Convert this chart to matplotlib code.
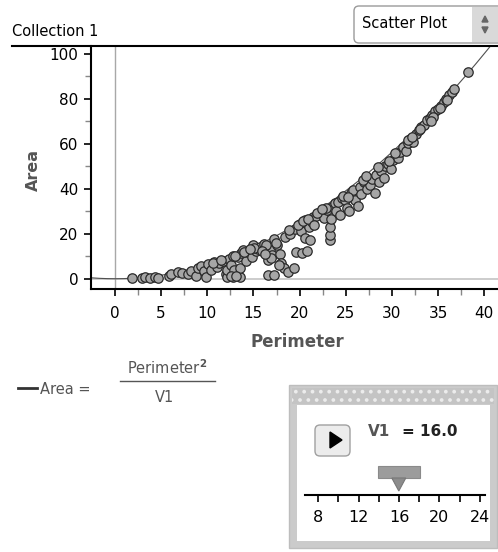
import numpy as np
import matplotlib.pyplot as plt
from matplotlib.patches import Rectangle, FancyBboxPatch, Polygon
from matplotlib.lines import Line2D

plt.rcParams['font.family'] = ['DejaVu Sans']
plt.rcParams['mathtext.fontset'] = 'dejavusans'
plt.rcParams['hatch.linewidth'] = 1.5

# Scatter data (Perimeter, Area)
perimeter = [1.8, 2.9, 3.3, 3.8, 4.3, 4.7, 5.9, 6.1, 6.8, 7.3, 7.9, 8.2, 8.8, 9.0,
             9.3, 9.6, 9.9, 10.1, 10.4, 10.7, 11.0, 11.3, 11.7, 12.0, 12.1, 12.1,
             12.3, 12.6, 12.8, 12.8, 12.9, 13.3, 13.5, 13.5, 13.7, 13.9, 14.2, 14.4,
             14.8, 15.0, 15.3, 15.5, 15.7, 16.1, 16.2, 16.6, 16.6, 16.8, 17.0, 17.2,
             17.2, 17.6, 17.9, 18.0, 18.3, 18.4, 18.7, 19.0, 19.4, 19.6, 19.5, 20.0,
             20.2, 20.3, 20.6, 20.6, 20.8, 21.0, 21.1, 21.3, 21.5, 21.8, 22.2, 22.6,
             23.0, 23.3, 23.3, 23.3, 23.4, 23.5, 23.8, 24.0, 24.2, 24.4, 24.6, 24.9,
             25.1, 25.4, 25.6, 25.8, 26.0, 26.3, 26.5, 26.7, 27.0, 27.3, 27.6, 27.9,
             28.2, 28.3, 28.6, 28.8, 29.1, 29.3, 29.6, 29.9, 30.1, 30.4, 30.7, 30.9,
             31.2, 31.5, 31.8, 32.0, 32.3, 32.6, 32.9, 33.2, 33.5, 33.8, 34.1, 34.4,
             34.7, 35.0, 35.3, 35.6, 35.9, 36.2, 36.5, 36.7, 38.3,
             10.6, 11.5, 13.0, 14.0, 15.1, 16.4, 17.4, 18.8, 19.8, 20.4, 21.9, 22.9,
             24.7, 26.9, 28.5, 30.3, 31.7, 33.0, 34.5, 35.2, 12.6, 13.1, 16.9, 17.8,
             15.9, 16.3, 14.6, 20.9, 21.6, 22.4, 25.3, 27.2, 29.7, 32.2, 34.2, 36.0]
area = [0.5, 0.5, 0.6, 0.5, 0.6, 0.5, 1.2, 2.3, 3.2, 2.6, 2.1, 3.3, 1.3, 4.8,
        5.6, 3.5, 0.8, 6.5, 3.9, 7.3, 5.2, 7.0, 8.0, 2.0, 0.8, 4.0,
        8.8, 6.2, 10.3, 0.8, 3.8, 9.5, 0.8, 4.6, 11.6, 12.6, 8.0, 12.0,
        9.8, 14.8, 12.2, 13.2, 14.0, 15.6, 13.0, 8.2, 1.5, 12.6, 10.4, 1.6,
        17.5, 15.2, 11.0, 6.8, 4.6, 18.5, 3.1, 20.0, 4.6, 11.8, 22.0, 24.5,
        21.0, 11.5, 18.0, 26.0, 12.2, 22.8, 17.2, 25.0, 27.5, 28.0, 29.5, 27.0,
        30.5, 17.0, 19.5, 23.0, 26.5, 32.0, 33.5, 30.0, 34.0, 28.5, 36.0, 35.0,
        31.5, 30.0, 38.0, 39.5, 35.0, 32.5, 41.0, 37.5, 43.0, 40.0, 41.5, 44.5,
        38.0, 46.0, 43.0, 48.0, 45.0, 50.0, 51.0, 49.0, 53.0, 55.0, 53.5, 56.5,
        58.5, 57.0, 60.5, 62.0, 61.0, 64.5, 66.0, 67.5, 68.5, 70.5, 71.5, 73.0,
        74.5, 75.5, 77.0, 78.5, 80.0, 81.5, 83.0, 84.5, 91.7,
        6.9, 8.2, 10.0, 11.8, 13.6, 15.0, 16.0, 21.5, 23.8, 25.5, 29.0, 31.5,
        37.0, 44.0, 49.5, 56.0, 61.5, 66.5, 72.0, 76.0, 1.0, 1.0, 9.0, 6.0,
        12.5, 10.8, 13.4, 26.5, 24.0, 30.8, 36.5, 45.5, 52.5, 63.0, 70.0, 79.5]

v1 = 16.0
slider_ticks = [8, 10, 12, 14, 16, 18, 20, 22, 24]
slider_labels = [8, 12, 16, 20, 24]

W, H = 498, 552
fig = plt.figure(figsize=(W / 100, H / 100), dpi=100)

def fx(px):
    return px / W

def fy(py):
    return 1 - py / H

# main plot
ax = fig.add_axes([fx(91), fy(289.3), fx(498) - fx(91), fy(45.7) - fy(289.3)])
ax.set_xlim(-2.6, 41.5)
ax.set_ylim(-4.7, 103.6)
ax.axhline(0, color='#c4c4c4', lw=1.2, zorder=1)
ax.axvline(0, color='#a8a8a8', lw=1.0, zorder=1)
curve_x = np.linspace(-2.6, 41.5, 300)
ax.plot(curve_x, curve_x ** 2 / v1, color='#505050', lw=0.8, zorder=2)
ax.scatter(perimeter, area, s=46, facecolor='#a6a6a6', edgecolor='#2a2a2a',
           linewidth=0.9, zorder=3)
for side in ['top', 'right']:
    ax.spines[side].set_visible(False)
for side in ['left', 'bottom']:
    ax.spines[side].set_linewidth(1.5)
ax.set_xticks(np.arange(0, 41, 5))
ax.set_xticks(np.arange(2.5, 41, 5), minor=True)
ax.set_yticks(np.arange(0, 101, 20))
ax.set_yticks(np.arange(10, 101, 20), minor=True)
ax.tick_params(which='major', length=5, width=1.2, labelsize=11, pad=4)
ax.tick_params(which='minor', length=4, width=1.0, color='#888888')
ax.tick_params(axis='x', pad=7)

# header line and titles
ov = fig.add_axes([0, 0, 1, 1], zorder=5)
ov.set_xlim(0, W)
ov.set_ylim(H, 0)
ov.axis('off')
ov.add_line(Line2D([12, 498], [45.7, 45.7], color='black', lw=1.5))
ov.text(12, 31, 'Collection 1', fontsize=10.5, va='center', ha='left')
ov.add_patch(FancyBboxPatch((354, 6), 150, 37, boxstyle='round,pad=0,rounding_size=5',
                            facecolor='white', edgecolor='#9a9a9a', lw=1))
ov.add_patch(Rectangle((472, 7), 26, 35, facecolor='#d9d9d9', edgecolor='none'))
ov.add_patch(Polygon([[482, 22], [488, 22], [485, 16]], color='#666666'))
ov.add_patch(Polygon([[482, 27], [488, 27], [485, 33]], color='#666666'))
ov.text(362, 24, 'Scatter Plot', fontsize=10.5, va='center', ha='left')

fig.text(fx(33), fy(170), 'Area', rotation=90, fontsize=11.5, fontweight='bold',
         color='#555555', ha='center', va='center')
fig.text(fx(297), fy(342), 'Perimeter', fontsize=12, fontweight='bold',
         color='#555555', ha='center', va='center')

# formula
ov.add_line(Line2D([18, 37], [388, 388], color='#333333', lw=2))
ov.text(40, 389, 'Area =', fontsize=10.5, color='#555555', va='center', ha='left')
ov.text(167, 368, r'Perimeter$^{\mathbf{2}}$', fontsize=10.5, color='#555555',
        va='center', ha='center')
ov.add_line(Line2D([120, 215], [381, 381], color='#555555', lw=1))
ov.text(165, 397, 'V1', fontsize=10.5, color='#555555', va='center', ha='center')

# slider panel
ov.add_patch(Rectangle((289, 385), 208, 163, facecolor='#cbcbcb', edgecolor='#bdbdbd', lw=1))
ov.add_patch(Rectangle((292, 388), 202, 16, facecolor='#c4c4c4', edgecolor='#ececec',
                       hatch='..', lw=0))
ov.add_patch(Rectangle((297, 405), 193, 136, facecolor='white', edgecolor='none'))
ov.add_patch(FancyBboxPatch((315, 425), 35, 31, boxstyle='round,pad=0,rounding_size=5',
                            facecolor='#ececec', edgecolor='#a0a0a0', lw=1))
ov.add_patch(Polygon([[330, 432], [330, 448], [342, 440]], color='black'))
ov.text(368, 432, 'V1', fontsize=11, fontweight='bold', color='#555555', va='center')
ov.text(402, 432, '= 16.0', fontsize=11, fontweight='bold', color='#222222', va='center')

sl = fig.add_axes([fx(305), fy(495), fx(485) - fx(305), 0.0001], zorder=7)
sl.patch.set_visible(False)
sl.set_xlim(6.7, 24.5)
sl.set_ylim(0, 1)
for side in ['top', 'right', 'left']:
    sl.spines[side].set_visible(False)
sl.spines['bottom'].set_linewidth(1.5)
sl.set_yticks([])
sl.set_xticks(slider_ticks)
sl.set_xticklabels([str(t) if t in slider_labels else '' for t in slider_ticks])
sl.tick_params(axis='x', length=5, width=1.2, labelsize=11.5, pad=6)
thumb_x = 318 + (v1 - 8) * 10.1
ov.add_patch(Rectangle((thumb_x - 21, 466), 42, 12, facecolor='#9c9c9c', edgecolor='#8a8a8a', lw=0.8))
ov.add_patch(Polygon([[thumb_x - 7, 478], [thumb_x + 7, 478], [thumb_x, 491]],
                     facecolor='#8c8c8c', edgecolor='#777777', lw=0.8))

fig.savefig('out.png', dpi=100)
